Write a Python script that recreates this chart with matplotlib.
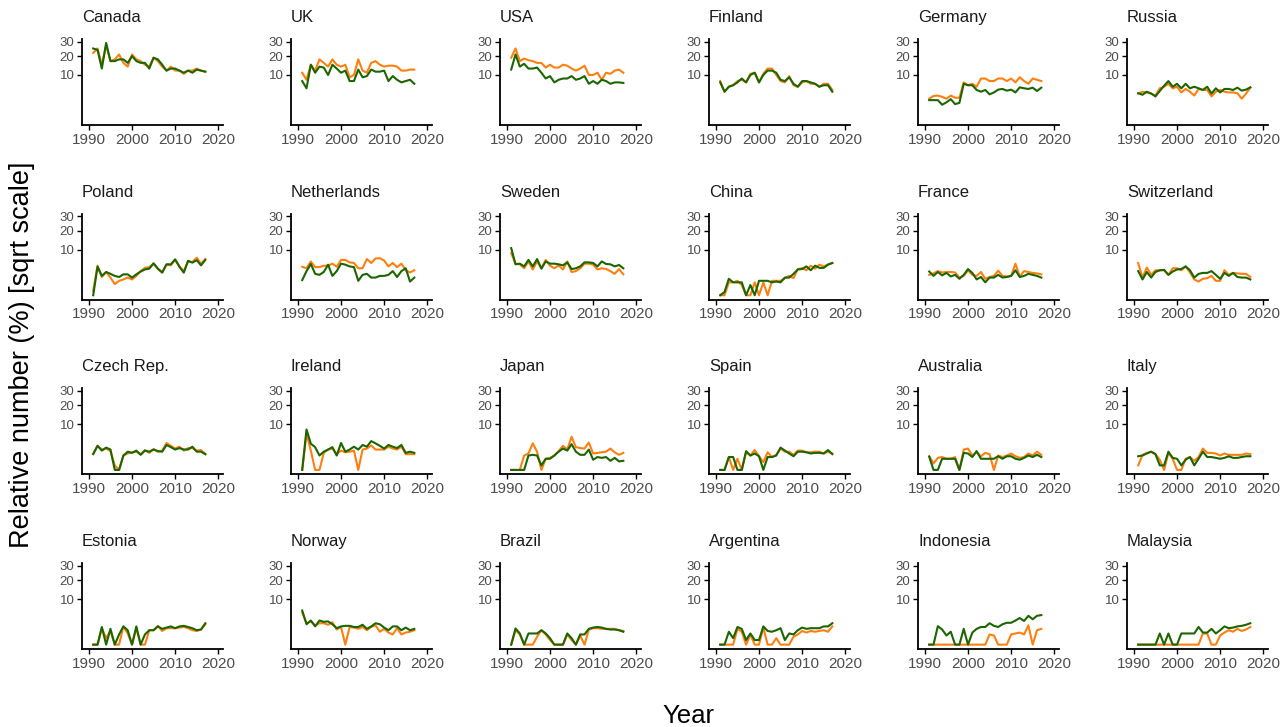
import numpy as np
import matplotlib
matplotlib.use("Agg")
import matplotlib.pyplot as plt

plt.rcParams['font.family'] = ['Liberation Sans', 'DejaVu Sans']

years = list(range(1991, 2018))

# orange series / green series, one pair per country
canada_o = [22,25,15,27,17,18,21,16,14,21,18,17,15,14,19,17,14,12,14,12,12,10.5,12,12,13,12,11.5]
canada_g = [25,24,13,29,17,17,18,18,16,20,17,16,16,13,19,18,15,12,13,13,12,11,12,11,12.5,12,11.5]
uk_o = [11,8,15,12,18,16,14,18,15,14,15,9,10,18,12,11,16,17,15,14,14.5,14.5,14,12,12,12.5,12.5]
uk_g = [7.5,5,15,11,14,13.5,10,15,13,11,12,7.5,7.5,12.5,9,9.5,12.5,11.5,11.5,12,7.5,9.5,8,7,7.5,8,6.5]
usa_o = [19,25,17,18.5,17.5,17,16,16,13.5,15,13.5,13.5,15,14.5,13,12,13,14.5,10,10,11,8,11,10.5,12,12.5,11]
usa_g = [12.5,21,14,15.5,13,13,13.5,11,8.5,9.5,7,8,8.5,8.5,9.5,8,8.5,9.5,6.5,7.5,6.5,8,7.5,6.5,7,7,6.8]
finland_o = [7.5,4,5.5,6,7.5,8,7,10.5,11,7,10.5,13,13,10,7.5,7,9.5,6,5.5,7,7.5,6.5,6.5,5.5,6.5,6.5,4.5]
finland_g = [7,4,5.5,6,7,8.5,7,10,11,7,10,12,12,11,8,7.5,9,6.5,5.5,7.5,7.5,7,6.5,5.5,6,6,4]
germany_o = [2.3,2.9,3,2.7,2.3,3,2.5,2.5,7,6,6.5,5.5,8.5,8.5,7.5,7.5,8.5,8.5,7.5,8.5,7,9,7.5,6.5,8.5,8,7.5]
germany_g = [2,2,2,1.2,1.6,2.2,1.3,1.5,6.5,6,6,4.5,4,4.5,3.3,3.8,4.6,4.8,4.3,4.6,3.8,5.3,5,4.8,5.2,4.2,5.2]
russia_o = [3.5,4,3.8,3.5,3,5,5.5,6.5,5,5.5,3.8,4.8,4,3,4.8,4.5,4.5,2.8,4,4.5,4,3.8,3.8,3.6,2.3,3.5,5.2]
russia_g = [3.6,3.2,4,3.5,2.8,4.2,5.8,7.5,5.5,6.5,5,6.5,5,5.5,5,4.5,5.5,3.5,5,3.8,4.8,4.8,4.5,5.2,4.3,4.6,5.3]
poland_o = [0.1,4.2,1.6,2.6,1.5,0.6,1.0,1.2,1.5,1.2,1.8,2.8,3.6,3.8,4.8,3.3,2.6,4.5,4.3,6.0,4.0,2.8,5.5,5.3,6.8,4.8,6.3]
poland_g = [0,3.9,1.8,2.6,2.2,1.8,1.6,2.1,2.1,1.5,2.1,2.7,3.2,3.4,4.9,3.4,2.45,4.6,4.6,6.2,3.9,2.45,5.7,5.1,5.9,4.3,6.0]
netherlands_o = [3.9,3.5,5.5,3.8,3.8,4.2,4.2,4.8,3.9,6.0,6.0,5.2,5.0,3.5,3.5,6.3,5.0,6.5,6.6,5.8,4.0,5.0,3.8,4.8,3.0,2.5,3.0]
netherlands_g = [1.1,2.8,4.7,2.2,2.0,2.6,4.5,1.8,2.8,4.8,4.5,4.0,3.8,1.0,2.0,2.2,1.5,1.5,1.8,1.8,2.0,2.8,1.6,2.8,3.5,0.9,1.5]
sweden_o = [8.5,4.8,4.6,3.5,5.5,3.2,5.5,3.5,6.0,4.2,3.5,4.3,3.2,5.5,2.6,2.8,3.5,4.8,4.8,4.5,3.2,3.5,3.3,2.8,2.2,3.3,2.1]
sweden_g = [10.7,4.6,4.8,4.0,6.0,4.0,6.3,3.4,5.5,4.8,4.8,4.6,4.3,5.2,3.3,3.5,4.0,5.2,5.2,5.0,4.0,5.5,4.7,4.6,4.0,4.4,3.5]
china_o = [0,0,0.8,0.8,1.0,0.5,0,0,0.8,0,0.8,0,1.0,1.0,1.0,1.4,1.8,1.4,3.3,3.5,3.0,4.2,3.4,4.5,4.0,4.6,5.0]
china_g = [0,0.05,1.3,0.8,0.8,0.8,0,0.5,0,1.0,1.0,1.0,0.8,0.9,0.8,1.5,1.5,2.2,3.2,3.3,4.0,3.0,4.2,3.6,3.6,4.5,5.0]
france_o = [2.0,2.3,2.8,2.5,2.6,2.6,2.5,1.5,1.8,3.0,2.0,1.8,2.6,1.3,1.6,1.8,2.9,1.8,1.7,1.8,4.8,1.7,2.8,2.6,2.4,2.3,2.1]
france_g = [2.7,1.8,2.6,1.9,2.4,1.7,2.0,1.3,2.0,3.3,2.4,1.2,1.6,0.8,1.5,1.5,2.0,1.5,1.6,1.8,3.0,1.6,1.8,2.2,2.0,1.8,1.5]
switzerland_o = [5.0,1.5,3.7,2.0,3.0,3.0,3.0,2.0,3.5,3.5,3.0,4.0,2.5,1.2,0.9,1.3,1.4,1.8,1.0,1.0,3.0,2.0,2.4,2.3,2.2,2.2,1.6]
switzerland_g = [2.8,1.2,2.6,1.5,2.6,3.0,3.1,2.0,2.7,3.2,3.3,4.0,3.0,1.5,2.2,2.4,2.4,2.8,2.0,1.3,2.4,1.8,2.4,1.6,1.5,1.5,1.2]
czech_o = [1.3,2.8,2.0,2.2,1.7,0.1,0,1.0,1.3,1.5,1.6,1.2,1.9,1.4,2.1,1.6,1.8,3.5,2.8,2.2,2.6,1.8,2.3,2.3,1.8,1.9,1.2]
czech_g = [1.2,2.8,1.8,2.4,2.0,0,0,1.0,1.6,1.4,1.8,1.1,1.8,1.6,2.0,1.7,1.6,3.0,2.5,2.0,2.3,2.0,2.0,2.6,1.6,1.6,1.2]
ireland_o = [0,6.5,1.8,0,0,1.4,2.0,2.2,1.2,1.8,1.5,1.6,1.8,0,2.0,2.2,2.9,2.0,2.0,2.0,2.6,2.2,2.0,2.6,1.2,1.2,1.2]
ireland_g = [0,7.9,3.3,2.5,1.0,1.6,2.0,2.5,1.0,3.5,1.6,2.0,2.6,2.0,3.0,2.6,4.0,3.4,2.8,2.2,3.0,2.6,2.3,3.0,1.4,1.6,1.4]
japan_o = [0,0,0,1.0,1.3,3.4,1.6,0,0.6,0.7,1.0,1.7,2.8,2.0,5.3,2.5,2.3,2.2,3.6,1.3,1.4,1.5,1.6,2.2,1.5,1.1,1.4]
japan_g = [0,0,0,0,1.0,1.1,1.0,0.1,0.6,0.6,1.0,1.6,2.2,1.8,3.2,1.6,1.1,1.1,2.0,0.5,0.8,0.7,0.8,0.4,0.7,0.35,0.4]
spain_o = [0,0,0.8,0,0.6,0,1.5,1.0,1.9,0.9,0.3,1.5,0.8,1.1,2.2,1.6,1.6,1.1,1.8,1.8,1.5,1.5,1.6,1.6,1.3,1.6,1.3]
spain_g = [0,0,0.8,0.8,0,0,1.7,1.0,1.3,0.9,0,0.8,0.8,1.0,2.4,1.8,1.3,0.9,1.6,1.6,1.5,1.3,1.4,1.4,1.3,1.9,1.2]
australia_o = [0.9,0.2,0.7,0.8,0.6,0.6,0.8,0,2.0,2.2,1.0,1.5,0.9,1.4,1.2,0,1.0,0.8,1.0,1.3,0.9,0.7,0.8,1.3,1.0,1.6,1.1]
australia_g = [0.85,0,0,0.6,0.6,0.6,0.6,0,1.4,1.3,0.8,1.7,0.6,0.6,0.6,0.6,0.9,0.6,0.9,0.9,0.6,0.5,0.7,1.0,0.8,1.1,0.8]
italy_o = [0.1,1.1,1.4,1.6,1.2,0.5,0,1.4,0.6,0,0,0.6,0.8,0.4,0.8,2.2,1.4,1.4,1.3,1.0,1.3,1.1,1.1,1.1,1.1,1.3,1.2]
italy_g = [0.9,1.0,1.3,1.6,1.2,0.1,0.1,1.6,0.7,0.6,0.1,0.5,0.8,0.1,0.6,1.6,0.8,0.8,0.7,0.6,0.7,0.9,0.7,0.7,0.8,0.9,0.9]
estonia_o = [0,0,1.3,0.2,0.9,0,0,1.6,0.6,0,1.3,0,0,1.0,1.0,1.7,0.9,1.3,1.3,1.3,1.4,1.5,1.3,1.0,0.9,1.1,2.0]
estonia_g = [0,0,1.5,0,1.2,0,0.5,1.6,1.0,0,1.6,0,0.5,1.0,1.0,1.6,1.2,1.4,1.6,1.3,1.6,1.7,1.5,1.3,1.0,1.1,2.2]
norway_o = [5.0,2.2,2.6,1.8,2.2,2.2,1.9,2.4,1.1,1.5,0,1.5,1.4,1.2,1.5,1.0,1.5,1.8,0.8,1.2,0.7,0.5,1.3,0.5,0.7,0.8,1.0]
norway_g = [5.6,2.0,2.8,1.6,2.8,2.5,2.6,2.0,1.3,1.6,1.7,1.7,1.5,1.5,1.9,1.2,1.6,2.2,2.0,1.4,1.0,1.6,1.6,1.0,1.4,1.0,1.2]
brazil_o = [0,1.0,0.5,0,0,0,0.3,1.0,0.5,0.1,0,0,0,0.5,0.1,0,0.4,0,1.1,1.3,1.3,1.2,1.2,1.2,1.2,1.0,0.9]
brazil_g = [0,1.26,0.6,0,0.6,0.6,0.6,1.0,0.6,0.2,0,0,0,0.6,0.2,0,0.5,0.5,1.2,1.4,1.5,1.4,1.2,1.1,1.1,1.0,0.8]
argentina_o = [0,0,0,0,1.2,0.8,0,0.5,0,0,1.4,0,0,0.2,0,0,0,0.3,0.5,0.9,0.7,0.9,0.8,0.9,1.0,0.8,1.6]
argentina_g = [0,0,0.8,0.2,1.5,1.2,0.1,0.6,0.1,0.1,1.6,0.9,0.8,1.0,1.3,0.1,0.6,0.5,1.0,1.4,1.2,1.3,1.3,1.3,1.6,1.6,2.2]
indonesia_o = [0,0,0,0,0,0,0,0,0,0,0,0,0,0,0.5,0.4,0,0,0,0.5,0.6,0.7,0.5,1.8,0,1.0,1.2]
indonesia_g = [0,0,1.64,1.1,0.4,0.8,0,0,1.2,0,0.7,1.2,1.5,1.5,2.2,1.7,1.5,2.0,2.3,2.3,2.8,3.4,2.7,4.0,3.1,4.0,4.2]
malaysia_o = [0,0,0,0,0,0,0,0,0,0,0,0,0,0,0,0.6,0.6,0,0,0.4,0.7,1.0,0.8,1.2,0.9,1.1,1.5]
malaysia_g = [0,0,0,0,0,0.6,0,0.6,0,0,0.6,0.6,0.6,0.6,1.5,0.7,0.7,1.2,0.6,1.0,1.6,1.3,1.4,1.6,1.7,1.9,2.2]

countries = ["Canada", "UK", "USA", "Finland", "Germany", "Russia",
             "Poland", "Netherlands", "Sweden", "China", "France", "Switzerland",
             "Czech Rep.", "Ireland", "Japan", "Spain", "Australia", "Italy",
             "Estonia", "Norway", "Brazil", "Argentina", "Indonesia", "Malaysia"]
series = [(canada_o, canada_g), (uk_o, uk_g), (usa_o, usa_g), (finland_o, finland_g),
          (germany_o, germany_g), (russia_o, russia_g), (poland_o, poland_g),
          (netherlands_o, netherlands_g), (sweden_o, sweden_g), (china_o, china_g),
          (france_o, france_g), (switzerland_o, switzerland_g), (czech_o, czech_g),
          (ireland_o, ireland_g), (japan_o, japan_g), (spain_o, spain_g),
          (australia_o, australia_g), (italy_o, italy_g), (estonia_o, estonia_g),
          (norway_o, norway_g), (brazil_o, brazil_g), (argentina_o, argentina_g),
          (indonesia_o, indonesia_g), (malaysia_o, malaysia_g)]

orange = "#ff7f0e"
green = "#1b6600"

W, H = 1288, 727
fig = plt.figure(figsize=(W/100, H/100), dpi=100)


def fwd(v):
    v = np.asarray(v, dtype=float)
    return np.sign(v)*np.sqrt(np.abs(v))


def inv(v):
    v = np.asarray(v, dtype=float)
    return np.sign(v)*v**2


aw, ah = 141, 86
for i, name in enumerate(countries):
    r, c = divmod(i, 6)
    left = 82 + 209*c
    top = 39 + 174.7*r
    ax = fig.add_axes([left/W, 1-(top+ah)/H, aw/W, ah/H])
    o, g = series[i]
    ax.plot(years, o, color=orange, lw=1.5, solid_joinstyle='round')
    ax.plot(years, g, color=green, lw=1.5, solid_joinstyle='round')
    ax.set_yscale('function', functions=(fwd, inv))
    ax.set_ylim(-0.096, 32)
    ax.set_xlim(1988.4, 2021.1)
    ax.set_yticks([10, 20, 30])
    ax.set_yticks([], minor=True)
    ax.set_yticklabels(["10", "20", "30"])
    ax.set_xticks([1990, 2000, 2010, 2020])
    ax.spines['top'].set_visible(False)
    ax.spines['right'].set_visible(False)
    for s in ('left', 'bottom'):
        ax.spines[s].set_linewidth(1.3)
        ax.spines[s].set_color('black')
    ax.tick_params(axis='both', length=3.5, width=1, color='black',
                   labelcolor='#4d4d4d', pad=2)
    ax.tick_params(axis='x', labelsize=11)
    ax.tick_params(axis='y', labelsize=9.5)
    ax.annotate(name, (0, 1), xycoords='axes fraction', xytext=(0, 12.2),
                textcoords='offset points', ha='left', va='baseline',
                fontsize=12, color='#1a1a1a')

fig.text(22/W, 1-355/H, "Relative number (%) [sqrt scale]", rotation=90,
         ha='center', va='center', fontsize=19.5, color='black')
fig.text(688/W, 1-716/H, "Year", ha='center', va='center', fontsize=18.5,
         color='black')

fig.savefig("out.png", dpi=100)
